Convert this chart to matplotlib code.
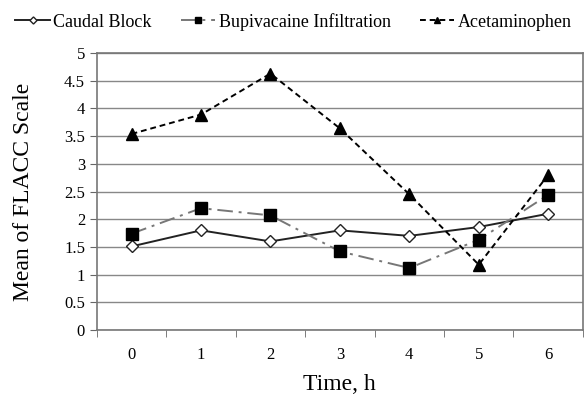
import matplotlib.pyplot as plt

plt.rcParams['font.family'] = ['Liberation Serif', 'DejaVu Serif']

hours = [0, 1, 2, 3, 4, 5, 6]
caudal = [1.51, 1.80, 1.60, 1.80, 1.70, 1.86, 2.10]
bupivacaine = [1.74, 2.20, 2.07, 1.42, 1.12, 1.63, 2.44]
acetaminophen = [3.54, 3.89, 4.63, 3.64, 2.45, 1.18, 2.80]

fig = plt.figure(figsize=(5.87, 4.05), dpi=100)
ax = fig.add_axes([0.165, 0.185, 0.828, 0.684])

x = list(range(len(hours)))
ax.plot(x, caudal, '-', color='#222222', lw=1.4, marker='D', ms=6,
        mfc='white', mec='#222222', mew=1.0, label='Caudal Block')
ax.plot(x, bupivacaine, color='#777777', lw=1.4, dashes=(8, 3, 1.5, 3),
        marker='s', ms=8, mfc='black', mec='black', label='Bupivacaine Infiltration')
ax.plot(x, acetaminophen, color='black', lw=1.4, dashes=(3, 2),
        marker='^', ms=8, mfc='black', mec='black', label='Acetaminophen')

ax.set_xlim(-0.5, 6.5)
ax.set_ylim(0, 5)
ax.set_yticks([0, 0.5, 1, 1.5, 2, 2.5, 3, 3.5, 4, 4.5, 5])
ax.set_yticklabels(['0', '0.5', '1', '1.5', '2', '2.5', '3', '3.5', '4', '4.5', '5'])
ax.set_xticks(x)
ax.set_xticklabels([str(h) for h in hours])
ax.set_xticks([i - 0.5 for i in range(8)], minor=True)
ax.tick_params(axis='x', which='major', length=0, pad=12, labelsize=12)
ax.tick_params(axis='x', which='minor', length=5, direction='out', color='#666666')
ax.tick_params(axis='y', length=5, color='#666666', labelsize=12)
ax.yaxis.grid(True, color='#888888', lw=1)
ax.set_axisbelow(True)
for s in ax.spines.values():
    s.set_color('#777777')
    s.set_linewidth(1.2)

ax.set_ylabel('Mean of FLACC Scale', fontsize=17)
ax.yaxis.set_label_coords(-0.13, 0.5)
ax.set_xlabel('Time, h', fontsize=17, labelpad=8)

fig.legend(loc='upper center', bbox_to_anchor=(0.5, 1.0), ncol=3, frameon=False,
           fontsize=13, handlelength=1.9, handletextpad=0.2, columnspacing=1.6,
           borderaxespad=0.3, markerscale=0.6)

fig.savefig('out.png', dpi=100)
